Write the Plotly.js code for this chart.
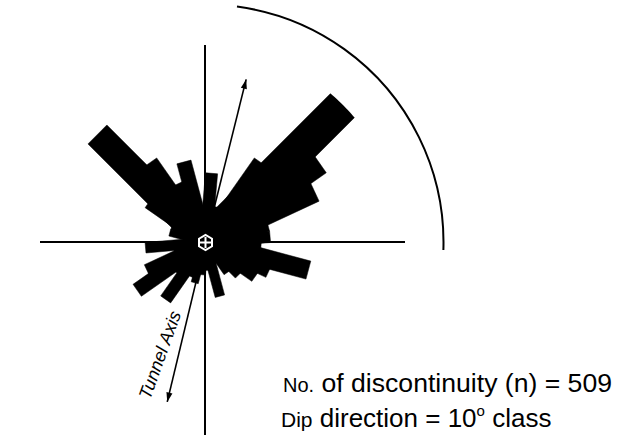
<!DOCTYPE html>
<html>
<head>
<meta charset="utf-8">
<script src="https://cdn.plot.ly/plotly-3.0.1.min.js"></script>
<style>
html,body{margin:0;padding:0;background:#ffffff;overflow:hidden;}
#chart{width:622px;height:437px;}
</style>
</head>
<body>
<div id="chart"></div>
<script>
// ---- data: dip direction rose, 10-degree classes (class centres, degrees from north)
const dipDirClass = [5, 15, 25, 35, 45, 55, 65, 75, 85, 95, 105, 115,
                     125, 135, 145, 155, 165, 175, 185, 195, 205, 215, 225, 235,
                     245, 255, 265, 275, 285, 295, 305, 315, 325, 335, 345, 355];
const discontinuityCount = [15, 8, 8, 21, 42, 30, 26, 14, 14, 12, 23, 15,
                            13, 10, 8, 5, 12, 6, 7, 9, 8, 15, 9, 18,
                            14, 7, 13, 4, 8, 8, 15, 33, 21, 14, 18, 6];
const classWidth = 10;          // degrees
const totalN = 509;

// reference directions drawn as arrows (direction in degrees, length in count units)
const arrowDir = [14, 193.5];
const arrowLen = [36.3, 35.4];
const arrowLabel = ['', 'Tunnel Axis'];

// ---- figure geometry (layout only)
const W = 622, H = 437;
const CX = 205.5, CY = 242.5;   // centre of rose, px
const roseR = 194.5;            // px radius of rose frame
const roseMax = 42;             // radial range max (counts)
const arcR = 238;               // px radius of outer arc
const arcFrom = 7.6, arcTo = 91.8; // compass degrees of outer arc

const font = 'Liberation Sans, Arial, Helvetica, sans-serif';
const rad = Math.PI / 180;

const traces = [];
// each class drawn as a flat-ended petal: r/theta of its outline, placed by the polar axes
const half = classWidth / 2;
for (let i = 0; i < dipDirClass.length; i++) {
  const L = discontinuityCount[i], t = dipDirClass[i];
  const w = L * Math.tan(half * rad);
  const tip = L / Math.cos(half * rad);
  traces.push({
    type: 'scatterpolar',
    subplot: 'polar',
    r: [w, tip, tip, w, w],
    theta: [t - 90, t - half, t + half, t + 90, t - 90],
    mode: 'lines',
    fill: 'toself',
    fillcolor: '#000000',
    line: {color: '#000000', width: 0.5},
    hoverinfo: 'skip'
  });
}
for (let i = 0; i < arrowDir.length; i++) {
  traces.push({
    type: 'scatterpolar',
    subplot: 'polar',
    r: [0, arrowLen[i]],
    theta: [arrowDir[i], arrowDir[i]],
    mode: 'lines+markers',
    line: {color: '#000000', width: 1.6},
    marker: {symbol: ['circle', 'arrow'], size: [0, 10], color: '#000000', opacity: 1,
             angle: [0, arrowDir[i]], line: {width: 0}},
    hoverinfo: 'skip'
  });
}
// centre symbol
traces.push({
  type: 'scatterpolar',
  subplot: 'polar',
  r: [0, 0],
  theta: [0, 0],
  mode: 'markers',
  marker: {symbol: ['hexagon-open', 'cross-thin-open'], size: [15, 8], opacity: 1,
           color: '#ffffff', line: {color: '#ffffff', width: [2, 2]}},
  hoverinfo: 'skip'
});

// outer arc as cubic Bezier segments (paper coordinates)
function pt(a) { // a: compass deg
  return [CX + arcR * Math.sin(a * rad), CY - arcR * Math.cos(a * rad)];
}
function tan(a) { // derivative direction (clockwise) in px
  return [Math.cos(a * rad), Math.sin(a * rad)];
}
function toPaper(p) { return (p[0] / W).toFixed(5) + ',' + ((H - p[1]) / H).toFixed(5); }
let arcPath = 'M' + toPaper(pt(arcFrom));
const nSeg = 3, step = (arcTo - arcFrom) / nSeg;
for (let s = 0; s < nSeg; s++) {
  const a0 = arcFrom + s * step, a1 = a0 + step;
  const k = 4 / 3 * Math.tan(step * rad / 4) * arcR;
  const p0 = pt(a0), p3 = pt(a1), t0 = tan(a0), t1 = tan(a1);
  const p1 = [p0[0] + k * t0[0], p0[1] + k * t0[1]];
  const p2 = [p3[0] - k * t1[0], p3[1] - k * t1[1]];
  arcPath += ' C' + toPaper(p1) + ' ' + toPaper(p2) + ' ' + toPaper(p3);
}

const layout = {
  width: W, height: H,
  margin: {l: 0, r: 0, t: 0, b: 0},
  paper_bgcolor: '#ffffff',
  showlegend: false,
  polar: {
    domain: {x: [(CX - roseR) / W, (CX + roseR) / W],
             y: [(H - CY - roseR) / H, (H - CY + roseR) / H]},
    bgcolor: 'rgba(0,0,0,0)',
    radialaxis: {visible: false, range: [0, roseMax]},
    angularaxis: {showgrid: false, showline: false, showticklabels: false, ticks: '',
                  rotation: 90, direction: 'clockwise'}
  },
  shapes: [
    {type: 'line', xref: 'paper', yref: 'paper', layer: 'below',
     x0: 40 / W, x1: 405 / W, y0: (H - 242) / H, y1: (H - 242) / H,
     line: {color: '#000000', width: 2}},
    {type: 'line', xref: 'paper', yref: 'paper', layer: 'below',
     x0: 205 / W, x1: 205 / W, y0: (H - 45) / H, y1: (H - 435) / H,
     line: {color: '#000000', width: 2}},
    {type: 'path', xref: 'paper', yref: 'paper', path: arcPath,
     line: {color: '#000000', width: 2}}
  ],
  annotations: [
    {xref: 'paper', yref: 'paper', x: 281 / W, y: (H - 400) / H,
     xanchor: 'left', yanchor: 'bottom', showarrow: false,
     text: '<span style="font-size:20px">No.</span> of discontinuity (n) = ' + totalN,
     font: {family: font, size: 26.6, color: '#000000'}},
    {xref: 'paper', yref: 'paper', x: 279 / W, y: (H - 435) / H,
     xanchor: 'left', yanchor: 'bottom', showarrow: false,
     text: '<span style="font-size:21px">Dip</span> direction = ' + classWidth +
           '<sup><span style="font-size:15px">o</span></sup> class',
     font: {family: font, size: 26, color: '#000000'}},
    {xref: 'paper', yref: 'paper', x: 160 / W, y: (H - 355) / H,
     xanchor: 'center', yanchor: 'middle', showarrow: false, textangle: -70,
     text: '<i>' + arrowLabel[1] + '</i>',
     font: {family: font, size: 18, color: '#000000'}}
  ]
};

Plotly.newPlot('chart', traces, layout, {staticPlot: true, displayModeBar: false});
</script>
</body>
</html>
